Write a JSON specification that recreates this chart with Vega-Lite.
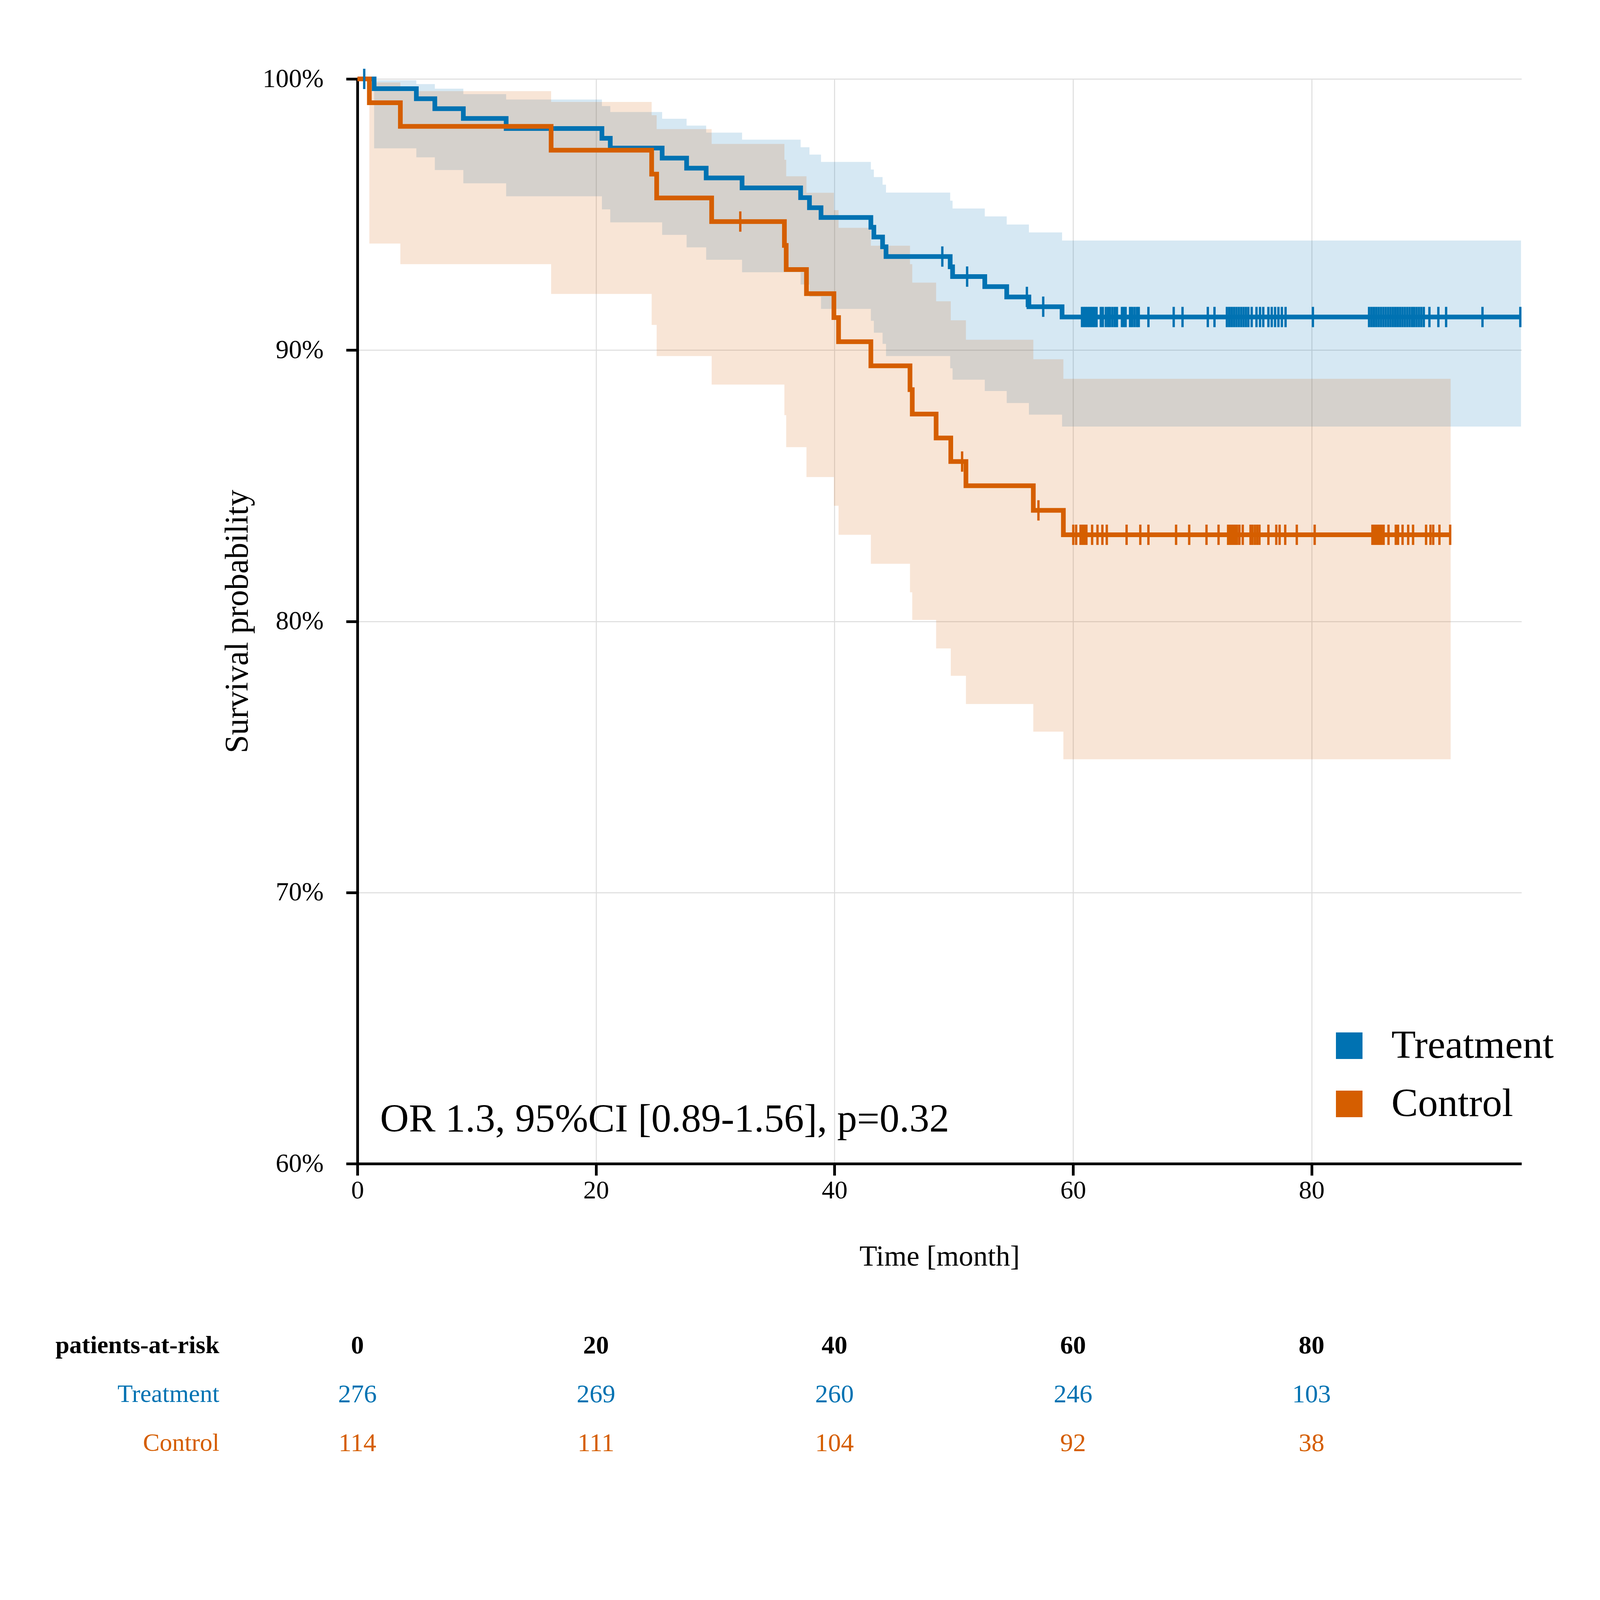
{
  "$schema": "https://vega.github.io/schema/vega-lite/v6.json",
  "background": "white",
  "padding": {"left": 141, "top": 168, "right": 5, "bottom": 5},
  "config": {
    "font": "Liberation Serif",
    "view": {"stroke": null},
    "axis": {
      "labelFont": "Liberation Serif",
      "titleFont": "Liberation Serif",
      "titleColor": "black",
      "titleFontWeight": "normal",
      "labelLimit": 0
    },
    "legend": {"labelLimit": 0}
  },
  "datasets": {
    "km": [
      {"group": "Treatment", "time": 0, "surv": 100},
      {"group": "Treatment", "time": 1.4, "surv": 99.64},
      {"group": "Treatment", "time": 4.94, "surv": 99.27},
      {"group": "Treatment", "time": 6.49, "surv": 98.9},
      {"group": "Treatment", "time": 8.88, "surv": 98.54},
      {"group": "Treatment", "time": 12.47, "surv": 98.17},
      {"group": "Treatment", "time": 20.5, "surv": 97.81},
      {"group": "Treatment", "time": 21.2, "surv": 97.45},
      {"group": "Treatment", "time": 25.55, "surv": 97.08},
      {"group": "Treatment", "time": 27.6, "surv": 96.71},
      {"group": "Treatment", "time": 29.24, "surv": 96.35},
      {"group": "Treatment", "time": 32.25, "surv": 95.98},
      {"group": "Treatment", "time": 37.16, "surv": 95.62},
      {"group": "Treatment", "time": 37.9, "surv": 95.25},
      {"group": "Treatment", "time": 38.87, "surv": 94.89},
      {"group": "Treatment", "time": 43.05, "surv": 94.53},
      {"group": "Treatment", "time": 43.3, "surv": 94.17},
      {"group": "Treatment", "time": 44.03, "surv": 93.81},
      {"group": "Treatment", "time": 44.32, "surv": 93.45},
      {"group": "Treatment", "time": 49.7, "surv": 93.07},
      {"group": "Treatment", "time": 49.9, "surv": 92.71},
      {"group": "Treatment", "time": 52.6, "surv": 92.34},
      {"group": "Treatment", "time": 54.44, "surv": 91.96},
      {"group": "Treatment", "time": 56.3, "surv": 91.6},
      {"group": "Treatment", "time": 59.08, "surv": 91.22},
      {"group": "Treatment", "time": 97.56, "surv": 91.22},
      {"group": "Control", "time": 0, "surv": 100},
      {"group": "Control", "time": 1.0, "surv": 99.12},
      {"group": "Control", "time": 3.6, "surv": 98.25},
      {"group": "Control", "time": 16.24, "surv": 97.37},
      {"group": "Control", "time": 24.67, "surv": 96.49},
      {"group": "Control", "time": 25.09, "surv": 95.61},
      {"group": "Control", "time": 29.7, "surv": 94.74},
      {"group": "Control", "time": 35.8, "surv": 93.86},
      {"group": "Control", "time": 35.95, "surv": 92.97},
      {"group": "Control", "time": 37.65, "surv": 92.08},
      {"group": "Control", "time": 39.95, "surv": 91.2},
      {"group": "Control", "time": 40.34, "surv": 90.31},
      {"group": "Control", "time": 43.05, "surv": 89.42},
      {"group": "Control", "time": 46.33, "surv": 88.54},
      {"group": "Control", "time": 46.52, "surv": 87.64},
      {"group": "Control", "time": 48.52, "surv": 86.76},
      {"group": "Control", "time": 49.75, "surv": 85.89},
      {"group": "Control", "time": 51.02, "surv": 85.0},
      {"group": "Control", "time": 56.67, "surv": 84.09},
      {"group": "Control", "time": 59.19, "surv": 83.19},
      {"group": "Control", "time": 91.66, "surv": 83.19}
    ],
    "band": [
      {"group": "Treatment", "time": 0, "hi": 100, "lo": 100},
      {"group": "Treatment", "time": 1.4, "hi": 99.95, "lo": 97.44},
      {"group": "Treatment", "time": 4.94, "hi": 99.81, "lo": 97.11},
      {"group": "Treatment", "time": 6.49, "hi": 99.64, "lo": 96.64},
      {"group": "Treatment", "time": 8.88, "hi": 99.44, "lo": 96.15},
      {"group": "Treatment", "time": 12.47, "hi": 99.24, "lo": 95.67},
      {"group": "Treatment", "time": 20.5, "hi": 99.0, "lo": 95.19},
      {"group": "Treatment", "time": 21.2, "hi": 98.78, "lo": 94.71},
      {"group": "Treatment", "time": 25.55, "hi": 98.53, "lo": 94.25},
      {"group": "Treatment", "time": 27.6, "hi": 98.28, "lo": 93.79},
      {"group": "Treatment", "time": 29.24, "hi": 98.02, "lo": 93.33},
      {"group": "Treatment", "time": 32.25, "hi": 97.76, "lo": 92.87},
      {"group": "Treatment", "time": 37.16, "hi": 97.48, "lo": 92.42},
      {"group": "Treatment", "time": 37.9, "hi": 97.21, "lo": 91.97},
      {"group": "Treatment", "time": 38.87, "hi": 96.94, "lo": 91.52},
      {"group": "Treatment", "time": 43.05, "hi": 96.66, "lo": 91.08},
      {"group": "Treatment", "time": 43.3, "hi": 96.38, "lo": 90.64},
      {"group": "Treatment", "time": 44.03, "hi": 96.1, "lo": 90.23},
      {"group": "Treatment", "time": 44.32, "hi": 95.81, "lo": 89.78},
      {"group": "Treatment", "time": 49.7, "hi": 95.51, "lo": 89.33},
      {"group": "Treatment", "time": 49.9, "hi": 95.22, "lo": 88.91},
      {"group": "Treatment", "time": 52.6, "hi": 94.93, "lo": 88.49},
      {"group": "Treatment", "time": 54.44, "hi": 94.63, "lo": 88.05},
      {"group": "Treatment", "time": 56.3, "hi": 94.34, "lo": 87.62},
      {"group": "Treatment", "time": 59.08, "hi": 94.04, "lo": 87.18},
      {"group": "Treatment", "time": 97.56, "hi": 94.04, "lo": 87.18},
      {"group": "Control", "time": 0, "hi": 100, "lo": 100},
      {"group": "Control", "time": 1.0, "hi": 99.87, "lo": 93.93},
      {"group": "Control", "time": 3.6, "hi": 99.55, "lo": 93.17},
      {"group": "Control", "time": 16.24, "hi": 99.15, "lo": 92.07},
      {"group": "Control", "time": 24.67, "hi": 98.66, "lo": 90.93},
      {"group": "Control", "time": 25.09, "hi": 98.15, "lo": 89.78},
      {"group": "Control", "time": 29.7, "hi": 97.6, "lo": 88.73},
      {"group": "Control", "time": 35.8, "hi": 97.02, "lo": 87.6},
      {"group": "Control", "time": 35.95, "hi": 96.41, "lo": 86.42},
      {"group": "Control", "time": 37.65, "hi": 95.8, "lo": 85.32},
      {"group": "Control", "time": 39.95, "hi": 95.16, "lo": 84.26},
      {"group": "Control", "time": 40.34, "hi": 94.51, "lo": 83.19},
      {"group": "Control", "time": 43.05, "hi": 93.85, "lo": 82.12},
      {"group": "Control", "time": 46.33, "hi": 93.17, "lo": 81.07},
      {"group": "Control", "time": 46.52, "hi": 92.49, "lo": 80.05},
      {"group": "Control", "time": 48.52, "hi": 91.8, "lo": 79.0},
      {"group": "Control", "time": 49.75, "hi": 91.1, "lo": 77.99},
      {"group": "Control", "time": 51.02, "hi": 90.38, "lo": 76.95},
      {"group": "Control", "time": 56.67, "hi": 89.66, "lo": 75.93},
      {"group": "Control", "time": 59.19, "hi": 88.94, "lo": 74.91},
      {"group": "Control", "time": 91.66, "hi": 88.94, "lo": 74.91}
    ],
    "censor": [
      {"group": "Treatment", "time": 0.57, "surv": 100},
      {"group": "Treatment", "time": 49.04, "surv": 93.45},
      {"group": "Treatment", "time": 51.12, "surv": 92.71},
      {"group": "Treatment", "time": 56.13, "surv": 91.96},
      {"group": "Treatment", "time": 57.5, "surv": 91.6},
      {"group": "Treatment", "time": 60.75, "surv": 91.22},
      {"group": "Treatment", "time": 60.9, "surv": 91.22},
      {"group": "Treatment", "time": 61.05, "surv": 91.22},
      {"group": "Treatment", "time": 61.2, "surv": 91.22},
      {"group": "Treatment", "time": 61.35, "surv": 91.22},
      {"group": "Treatment", "time": 61.5, "surv": 91.22},
      {"group": "Treatment", "time": 61.65, "surv": 91.22},
      {"group": "Treatment", "time": 61.8, "surv": 91.22},
      {"group": "Treatment", "time": 61.97, "surv": 91.22},
      {"group": "Treatment", "time": 62.33, "surv": 91.22},
      {"group": "Treatment", "time": 62.5, "surv": 91.22},
      {"group": "Treatment", "time": 62.75, "surv": 91.22},
      {"group": "Treatment", "time": 62.94, "surv": 91.22},
      {"group": "Treatment", "time": 63.1, "surv": 91.22},
      {"group": "Treatment", "time": 63.3, "surv": 91.22},
      {"group": "Treatment", "time": 63.5, "surv": 91.22},
      {"group": "Treatment", "time": 63.68, "surv": 91.22},
      {"group": "Treatment", "time": 64.1, "surv": 91.22},
      {"group": "Treatment", "time": 64.25, "surv": 91.22},
      {"group": "Treatment", "time": 64.41, "surv": 91.22},
      {"group": "Treatment", "time": 64.78, "surv": 91.22},
      {"group": "Treatment", "time": 64.95, "surv": 91.22},
      {"group": "Treatment", "time": 65.15, "surv": 91.22},
      {"group": "Treatment", "time": 65.35, "surv": 91.22},
      {"group": "Treatment", "time": 65.51, "surv": 91.22},
      {"group": "Treatment", "time": 66.32, "surv": 91.22},
      {"group": "Treatment", "time": 68.44, "surv": 91.22},
      {"group": "Treatment", "time": 69.18, "surv": 91.22},
      {"group": "Treatment", "time": 71.3, "surv": 91.22},
      {"group": "Treatment", "time": 71.86, "surv": 91.22},
      {"group": "Treatment", "time": 72.9, "surv": 91.22},
      {"group": "Treatment", "time": 73.1, "surv": 91.22},
      {"group": "Treatment", "time": 73.3, "surv": 91.22},
      {"group": "Treatment", "time": 73.5, "surv": 91.22},
      {"group": "Treatment", "time": 73.7, "surv": 91.22},
      {"group": "Treatment", "time": 73.9, "surv": 91.22},
      {"group": "Treatment", "time": 74.1, "surv": 91.22},
      {"group": "Treatment", "time": 74.3, "surv": 91.22},
      {"group": "Treatment", "time": 74.5, "surv": 91.22},
      {"group": "Treatment", "time": 74.7, "surv": 91.22},
      {"group": "Treatment", "time": 74.98, "surv": 91.22},
      {"group": "Treatment", "time": 75.38, "surv": 91.22},
      {"group": "Treatment", "time": 75.68, "surv": 91.22},
      {"group": "Treatment", "time": 75.95, "surv": 91.22},
      {"group": "Treatment", "time": 76.38, "surv": 91.22},
      {"group": "Treatment", "time": 76.66, "surv": 91.22},
      {"group": "Treatment", "time": 76.94, "surv": 91.22},
      {"group": "Treatment", "time": 77.22, "surv": 91.22},
      {"group": "Treatment", "time": 77.51, "surv": 91.22},
      {"group": "Treatment", "time": 77.82, "surv": 91.22},
      {"group": "Treatment", "time": 80.11, "surv": 91.22},
      {"group": "Treatment", "time": 84.82, "surv": 91.22},
      {"group": "Treatment", "time": 85.02, "surv": 91.22},
      {"group": "Treatment", "time": 85.22, "surv": 91.22},
      {"group": "Treatment", "time": 85.42, "surv": 91.22},
      {"group": "Treatment", "time": 85.62, "surv": 91.22},
      {"group": "Treatment", "time": 85.82, "surv": 91.22},
      {"group": "Treatment", "time": 86.02, "surv": 91.22},
      {"group": "Treatment", "time": 86.22, "surv": 91.22},
      {"group": "Treatment", "time": 86.42, "surv": 91.22},
      {"group": "Treatment", "time": 86.62, "surv": 91.22},
      {"group": "Treatment", "time": 86.82, "surv": 91.22},
      {"group": "Treatment", "time": 87.02, "surv": 91.22},
      {"group": "Treatment", "time": 87.22, "surv": 91.22},
      {"group": "Treatment", "time": 87.42, "surv": 91.22},
      {"group": "Treatment", "time": 87.62, "surv": 91.22},
      {"group": "Treatment", "time": 87.82, "surv": 91.22},
      {"group": "Treatment", "time": 88.02, "surv": 91.22},
      {"group": "Treatment", "time": 88.22, "surv": 91.22},
      {"group": "Treatment", "time": 88.42, "surv": 91.22},
      {"group": "Treatment", "time": 88.6, "surv": 91.22},
      {"group": "Treatment", "time": 88.8, "surv": 91.22},
      {"group": "Treatment", "time": 89.0, "surv": 91.22},
      {"group": "Treatment", "time": 89.2, "surv": 91.22},
      {"group": "Treatment", "time": 89.41, "surv": 91.22},
      {"group": "Treatment", "time": 89.88, "surv": 91.22},
      {"group": "Treatment", "time": 90.63, "surv": 91.22},
      {"group": "Treatment", "time": 91.28, "surv": 91.22},
      {"group": "Treatment", "time": 94.33, "surv": 91.22},
      {"group": "Treatment", "time": 97.5, "surv": 91.22},
      {"group": "Control", "time": 32.1, "surv": 94.74},
      {"group": "Control", "time": 50.7, "surv": 85.89},
      {"group": "Control", "time": 57.1, "surv": 84.09},
      {"group": "Control", "time": 60.02, "surv": 83.19},
      {"group": "Control", "time": 60.26, "surv": 83.19},
      {"group": "Control", "time": 60.63, "surv": 83.19},
      {"group": "Control", "time": 60.75, "surv": 83.19},
      {"group": "Control", "time": 60.87, "surv": 83.19},
      {"group": "Control", "time": 61.0, "surv": 83.19},
      {"group": "Control", "time": 61.12, "surv": 83.19},
      {"group": "Control", "time": 61.6, "surv": 83.19},
      {"group": "Control", "time": 62.05, "surv": 83.19},
      {"group": "Control", "time": 62.46, "surv": 83.19},
      {"group": "Control", "time": 62.83, "surv": 83.19},
      {"group": "Control", "time": 64.49, "surv": 83.19},
      {"group": "Control", "time": 65.64, "surv": 83.19},
      {"group": "Control", "time": 66.32, "surv": 83.19},
      {"group": "Control", "time": 68.64, "surv": 83.19},
      {"group": "Control", "time": 69.74, "surv": 83.19},
      {"group": "Control", "time": 71.19, "surv": 83.19},
      {"group": "Control", "time": 72.2, "surv": 83.19},
      {"group": "Control", "time": 73.0, "surv": 83.19},
      {"group": "Control", "time": 73.15, "surv": 83.19},
      {"group": "Control", "time": 73.3, "surv": 83.19},
      {"group": "Control", "time": 73.45, "surv": 83.19},
      {"group": "Control", "time": 73.6, "surv": 83.19},
      {"group": "Control", "time": 73.75, "surv": 83.19},
      {"group": "Control", "time": 73.95, "surv": 83.19},
      {"group": "Control", "time": 74.23, "surv": 83.19},
      {"group": "Control", "time": 74.88, "surv": 83.19},
      {"group": "Control", "time": 75.05, "surv": 83.19},
      {"group": "Control", "time": 75.25, "surv": 83.19},
      {"group": "Control", "time": 75.44, "surv": 83.19},
      {"group": "Control", "time": 75.63, "surv": 83.19},
      {"group": "Control", "time": 76.38, "surv": 83.19},
      {"group": "Control", "time": 77.04, "surv": 83.19},
      {"group": "Control", "time": 77.32, "surv": 83.19},
      {"group": "Control", "time": 77.79, "surv": 83.19},
      {"group": "Control", "time": 78.76, "surv": 83.19},
      {"group": "Control", "time": 80.26, "surv": 83.19},
      {"group": "Control", "time": 85.1, "surv": 83.19},
      {"group": "Control", "time": 85.25, "surv": 83.19},
      {"group": "Control", "time": 85.4, "surv": 83.19},
      {"group": "Control", "time": 85.55, "surv": 83.19},
      {"group": "Control", "time": 85.7, "surv": 83.19},
      {"group": "Control", "time": 85.85, "surv": 83.19},
      {"group": "Control", "time": 86.04, "surv": 83.19},
      {"group": "Control", "time": 86.45, "surv": 83.19},
      {"group": "Control", "time": 87.06, "surv": 83.19},
      {"group": "Control", "time": 87.25, "surv": 83.19},
      {"group": "Control", "time": 87.63, "surv": 83.19},
      {"group": "Control", "time": 88.1, "surv": 83.19},
      {"group": "Control", "time": 88.51, "surv": 83.19},
      {"group": "Control", "time": 89.6, "surv": 83.19},
      {"group": "Control", "time": 89.97, "surv": 83.19},
      {"group": "Control", "time": 90.2, "surv": 83.19},
      {"group": "Control", "time": 90.72, "surv": 83.19},
      {"group": "Control", "time": 91.62, "surv": 83.19}
    ],
    "note": [
      {"time": 1.9, "surv": 61.18, "label": "OR 1.3, 95%CI [0.89-1.56], p=0.32"}
    ],
    "risk": [
      {"row": "patients-at-risk", "time": 0, "label": "0"},
      {"row": "patients-at-risk", "time": 20, "label": "20"},
      {"row": "patients-at-risk", "time": 40, "label": "40"},
      {"row": "patients-at-risk", "time": 60, "label": "60"},
      {"row": "patients-at-risk", "time": 80, "label": "80"},
      {"row": "Treatment", "time": 0, "label": "276"},
      {"row": "Treatment", "time": 20, "label": "269"},
      {"row": "Treatment", "time": 40, "label": "260"},
      {"row": "Treatment", "time": 60, "label": "246"},
      {"row": "Treatment", "time": 80, "label": "103"},
      {"row": "Control", "time": 0, "label": "114"},
      {"row": "Control", "time": 20, "label": "111"},
      {"row": "Control", "time": 40, "label": "104"},
      {"row": "Control", "time": 60, "label": "92"},
      {"row": "Control", "time": 80, "label": "38"}
    ]
  },
  "spacing": 128,
  "resolve": {"scale": {"x": "independent"}, "legend": {"color": "independent"}},
  "vconcat": [
    {
      "width": 2980,
      "height": 2777,
      "encoding": {
        "x": {
          "field": "time",
          "type": "quantitative",
          "scale": {"domain": [0, 97.6], "nice": false, "zero": false},
          "axis": {
            "title": "Time [month]",
            "values": [0, 20, 40, 60, 80],
            "grid": true,
            "gridColor": "#dcdcdc",
            "gridWidth": 2.5,
            "domainColor": "black",
            "domainWidth": 7,
            "tickColor": "black",
            "tickWidth": 7,
            "tickSize": 30,
            "labelColor": "black",
            "labelFontSize": 66,
            "labelPadding": 6,
            "labelFlush": false,
            "titleFontSize": 74,
            "titlePadding": 101
          }
        },
        "y": {
          "type": "quantitative",
          "scale": {"domain": [60, 100], "nice": false, "zero": false},
          "axis": {
            "title": "Survival probability",
            "values": [60, 70, 80, 90, 100],
            "labelExpr": "datum.value + '%'",
            "grid": true,
            "gridColor": "#dcdcdc",
            "gridWidth": 2.5,
            "domainColor": "black",
            "domainWidth": 7,
            "tickColor": "black",
            "tickWidth": 7,
            "tickSize": 29,
            "labelColor": "black",
            "labelFontSize": 67,
            "labelPadding": 58,
            "titleFontSize": 84,
            "titlePadding": 64
          }
        }
      },
      "layer": [
        {
          "data": {"name": "band"},
          "transform": [{"filter": "datum.group == 'Treatment'"}],
          "mark": {"type": "area", "interpolate": "step-after", "color": "#0072B2", "opacity": 0.16},
          "encoding": {
            "y": {"field": "hi"},
            "y2": {"field": "lo"}
          }
        },
        {
          "data": {"name": "band"},
          "transform": [{"filter": "datum.group == 'Control'"}],
          "mark": {"type": "area", "interpolate": "step-after", "color": "#D55E00", "opacity": 0.16},
          "encoding": {
            "y": {"field": "hi"},
            "y2": {"field": "lo"}
          }
        },
        {
          "data": {"name": "km"},
          "transform": [{"filter": "datum.group == 'Treatment'"}],
          "mark": {"type": "line", "interpolate": "step-after", "strokeWidth": 12, "color": "#0072B2"},
          "encoding": {
            "y": {"field": "surv"}
          }
        },
        {
          "data": {"name": "km"},
          "transform": [{"filter": "datum.group == 'Control'"}],
          "mark": {"type": "line", "interpolate": "step-after", "strokeWidth": 12, "color": "#D55E00"},
          "encoding": {
            "y": {"field": "surv"}
          }
        },
        {
          "data": {"name": "censor"},
          "mark": {"type": "tick", "orient": "vertical", "size": 52, "thickness": 6, "opacity": 1},
          "encoding": {
            "y": {"field": "surv"},
            "color": {
              "field": "group",
              "type": "nominal",
              "scale": {"domain": ["Treatment", "Control"], "range": ["#0072B2", "#D55E00"]},
              "legend": {
                "orient": "none",
                "legendX": 2488,
                "legendY": 2424,
                "title": null,
                "padding": 0,
                "symbolType": "square",
                "symbolSize": 4624,
                "symbolStrokeWidth": 0,
                "symbolOpacity": 1,
                "labelFont": "Liberation Serif",
                "labelFontSize": 102,
                "labelColor": "black",
                "labelOffset": 57,
                "rowPadding": 47
              }
            }
          }
        },
        {
          "data": {"name": "note"},
          "mark": {"type": "text", "align": "left", "baseline": "alphabetic", "fontSize": 102, "font": "Liberation Serif", "color": "black"},
          "encoding": {
            "y": {"field": "surv"},
            "text": {"field": "label"}
          }
        }
      ]
    },
    {
      "width": 2980,
      "height": 375,
      "data": {"name": "risk"},
      "encoding": {
        "x": {
          "field": "time",
          "type": "quantitative",
          "scale": {"domain": [0, 97.6], "nice": false, "zero": false},
          "axis": null
        },
        "y": {
          "field": "row",
          "type": "nominal",
          "sort": ["patients-at-risk", "Treatment", "Control"],
          "scale": {"paddingInner": 0, "paddingOuter": 0},
          "axis": {
            "title": null,
            "domain": false,
            "ticks": false,
            "grid": false,
            "labelFontSize": 64,
            "labelPadding": 354,
            "labelColor": {
              "condition": [
                {"test": "datum.value === 'Treatment'", "value": "#0072B2"},
                {"test": "datum.value === 'Control'", "value": "#D55E00"}
              ],
              "value": "black"
            },
            "labelFontWeight": {
              "condition": {"test": "datum.value === 'patients-at-risk'", "value": "bold"},
              "value": "normal"
            }
          }
        }
      },
      "layer": [
        {
          "transform": [{"filter": "datum.row == 'patients-at-risk'"}],
          "mark": {"type": "text", "fontSize": 66, "fontWeight": "bold", "font": "Liberation Serif", "baseline": "middle", "color": "black"},
          "encoding": {"text": {"field": "label"}}
        },
        {
          "transform": [{"filter": "datum.row != 'patients-at-risk'"}],
          "mark": {"type": "text", "fontSize": 66, "font": "Liberation Serif", "baseline": "middle"},
          "encoding": {
            "text": {"field": "label"},
            "color": {
              "condition": {"test": "datum.row == 'Treatment'", "value": "#0072B2"},
              "value": "#D55E00"
            }
          }
        }
      ]
    }
  ]
}
